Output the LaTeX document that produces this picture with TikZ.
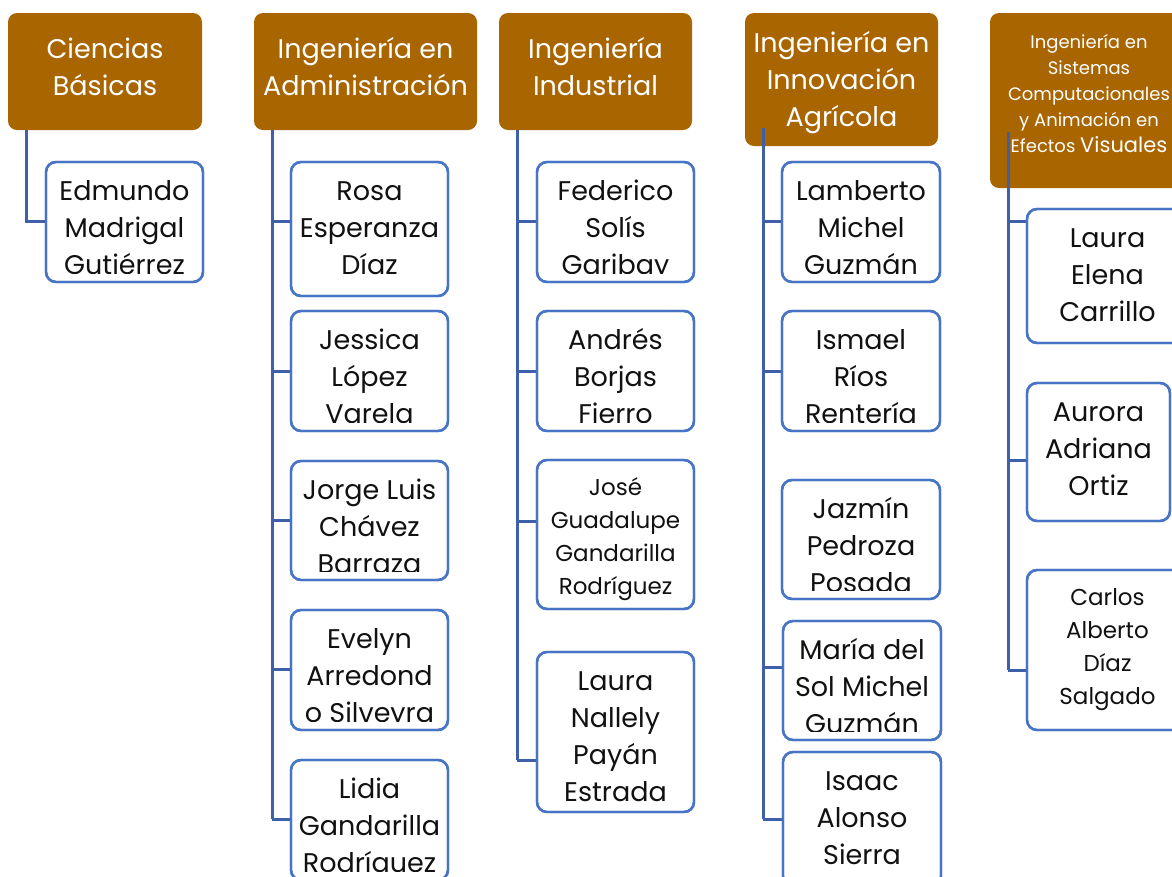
\documentclass[tikz,border=0pt]{standalone}
\usepackage{fontspec}
\setmainfont{Poppins}
\definecolor{hdrbrown}{RGB}{168,101,0}
\definecolor{boxblue}{RGB}{72,116,198}
\definecolor{lineblue}{RGB}{62,96,168}
\definecolor{nametext}{RGB}{17,17,17}
\tikzset{
  hdr/.style={draw=none, fill=hdrbrown, rounded corners=9pt, inner sep=0pt, outer sep=0pt},
  pbox/.style={draw=boxblue, line width=2.4pt, fill=white, rounded corners=10pt, inner sep=0pt, outer sep=0pt},
  conn/.style={draw=lineblue, line width=3pt},
  ptext/.style={align=center, inner sep=0pt, anchor=north, text=nametext},
  htext/.style={align=center, inner sep=0pt, anchor=north, text=white},
}
% #1 name, #2 x1, #3 y1, #4 x2, #5 y2, #6 style
\newcommand\mkbox[6]{%
  \node[#6, minimum width={#4-#2}, minimum height={#5-#3}] (#1) at ({(#2+#4)/2},{(#3+#5)/2}) {};}
% #1 box name, #2 baseline offset, #3 size, #4 skip, #5 style, #6 text
\newcommand\ptxt[6]{%
  \begin{scope}
    \clip ([xshift=3pt,yshift=-3pt]#1.north west) rectangle ([xshift=-3pt,yshift=9pt]#1.south east);
    \node[#5, font=\fontsize{#3}{#4}\selectfont] (#1t) at ([yshift={-(#2-24)*1pt}]#1.north) {\rule{0pt}{24pt}#6};
  \end{scope}}
% #1 vertical line coordinate, #2 box, #3 y
\newcommand\branch[3]{\draw[conn] (#1 |- 0,#3) -- (#2.west |- 0,#3);}
\begin{document}
\begin{tikzpicture}[x=1pt,y=-1pt]
\useasboundingbox (0,0) rectangle (1172,876);
\clip (0,0) rectangle (1172,876);
% headers
\mkbox{h1}{8}{13}{202}{130}{hdr}
\mkbox{h2}{254}{13}{477}{130}{hdr}
\mkbox{h3}{499}{13}{692}{130}{hdr}
\mkbox{h4}{745}{13}{938}{146}{hdr}
\mkbox{h5}{990}{13}{1188}{188}{hdr}
\ptxt{h1}{45}{27}{37}{htext}{Ciencias\\Básicas}
\ptxt{h2}{45}{27}{37}{htext}{Ingeniería en\\Administración}
\ptxt{h3}{45}{27}{37}{htext}{Ingeniería\\Industrial}
\ptxt{h4}{39}{27}{37}{htext}{Ingeniería en\\Innovación\\Agrícola}
\ptxt{h5}{35}{18}{26}{htext}{Ingeniería en\\Sistemas\\Computacionales\\y Animación en\\Efectos {\fontsize{21}{26}\selectfont Visuales}}
% person boxes
\mkbox{b11}{46}{162}{203}{282}{pbox}
\mkbox{b21}{291}{162}{448}{296}{pbox}
\mkbox{b22}{291}{311}{448}{431}{pbox}
\mkbox{b23}{291}{461}{448}{580}{pbox}
\mkbox{b24}{291}{610}{448}{730}{pbox}
\mkbox{b25}{291}{760}{448}{880}{pbox}
\mkbox{b31}{537}{162}{694}{282}{pbox}
\mkbox{b32}{537}{311}{694}{431}{pbox}
\mkbox{b33}{537}{460}{694}{609}{pbox}
\mkbox{b34}{537}{652}{694}{812}{pbox}
\mkbox{b41}{782}{162}{940}{282}{pbox}
\mkbox{b42}{782}{311}{940}{431}{pbox}
\mkbox{b43}{782}{480}{940}{599}{pbox}
\mkbox{b44}{783}{621}{941}{740}{pbox}
\mkbox{b45}{783}{752}{941}{886}{pbox}
\mkbox{b51}{1027}{209}{1188}{343}{pbox}
\mkbox{b52}{1027}{383}{1170}{521}{pbox}
\mkbox{b53}{1027}{570}{1188}{730}{pbox}
% connectors
\coordinate (v1) at (26,130);
\coordinate (v2) at (272,130);
\coordinate (v3) at (517,130);
\coordinate (v4) at (763,128);
\coordinate (v5) at (1008,132);
\draw[conn] (v1) |- (b11.west |- 0,221);
\draw[conn] (v2) -- (v2 |- 0,819);
\draw[conn] (v3) -- (v3 |- 0,760);
\draw[conn] (v4) -- (v4 |- 0,819);
\draw[conn] (v5) -- (v5 |- 0,670);
\branch{v2}{b21}{221}
\branch{v2}{b22}{371}
\branch{v2}{b23}{520}
\branch{v2}{b24}{669}
\branch{v2}{b25}{819}
\branch{v3}{b31}{221}
\branch{v3}{b32}{371}
\branch{v3}{b33}{521}
\branch{v3}{b34}{760}
\branch{v4}{b41}{221}
\branch{v4}{b42}{371}
\branch{v4}{b44}{667}
\branch{v4}{b45}{819}
\branch{v5}{b51}{221}
\branch{v5}{b52}{460}
\branch{v5}{b53}{670}
% redraw boxes over branch ends
\foreach \b in {b11,b21,b22,b23,b24,b25,b31,b32,b33,b34,b41,b42,b43,b44,b45,b51,b52,b53}{\draw[pbox, fill=none] (\b.north west) rectangle (\b.south east);}
% names
\ptxt{b11}{38}{27}{37}{ptext}{Edmundo\\Madrigal\\Gutiérrez}
\ptxt{b21}{38}{27}{37}{ptext}{Rosa\\Esperanza\\Díaz}
\ptxt{b22}{38}{27}{37}{ptext}{Jessica\\López\\Varela}
\ptxt{b23}{38}{27}{37}{ptext}{Jorge Luis\\Chávez\\Barraza}
\ptxt{b24}{38}{27}{37}{ptext}{Evelyn\\Arredond\\o Silveyra}
\ptxt{b25}{38}{27}{37}{ptext}{Lidia\\Gandarilla\\Rodríguez}
\ptxt{b31}{38}{27}{37}{ptext}{Federico\\Solís\\Garibay}
\ptxt{b32}{38}{27}{37}{ptext}{Andrés\\Borjas\\Fierro}
\ptxt{b33}{35}{23}{33}{ptext}{José\\Guadalupe\\Gandarilla\\Rodríguez}
\ptxt{b34}{38}{27}{37}{ptext}{Laura\\Nallely\\Payán\\Estrada}
\ptxt{b41}{38}{27}{37}{ptext}{Lamberto\\Michel\\Guzmán}
\ptxt{b42}{38}{27}{37}{ptext}{Ismael\\Ríos\\Rentería}
\ptxt{b43}{38}{27}{37}{ptext}{Jazmín\\Pedroza\\Posada}
\ptxt{b44}{38}{27}{37}{ptext}{María del\\Sol Michel\\Guzmán}
\ptxt{b45}{38}{27}{37}{ptext}{Isaac\\Alonso\\Sierra}
\ptxt{b51}{38}{27}{37}{ptext}{Laura\\Elena\\Carrillo}
\ptxt{b52}{38}{27}{37}{ptext}{Aurora\\Adriana\\Ortiz}
\ptxt{b53}{35}{23}{33}{ptext}{Carlos\\Alberto\\Díaz\\Salgado}
\end{tikzpicture}
\end{document}
